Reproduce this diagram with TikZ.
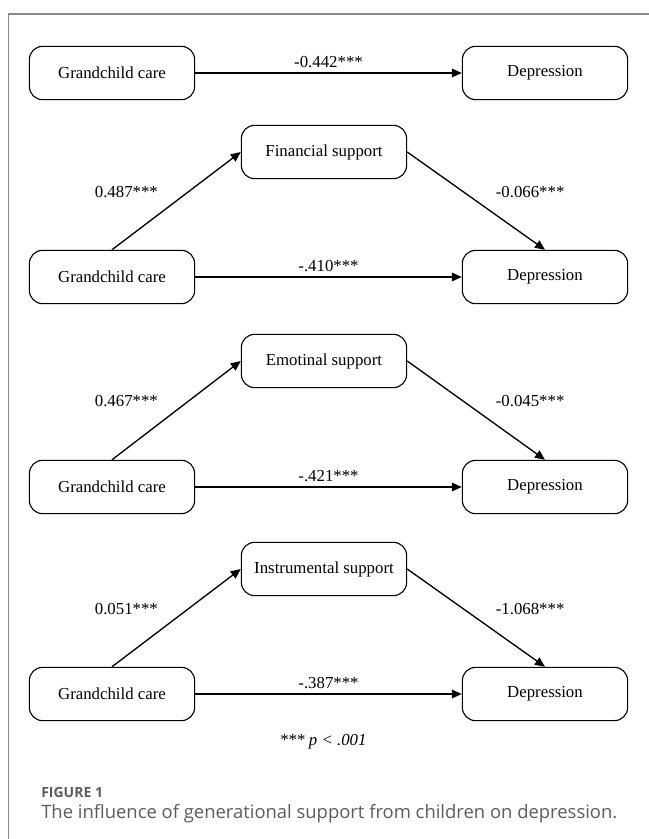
\documentclass[tikz,border=0pt]{standalone}
\usepackage{fontspec}
\setmainfont{Liberation Serif}
\newfontfamily\capfont{Open Sans}
\usetikzlibrary{arrows.meta}
\definecolor{framegray}{HTML}{8A8A8A}
\definecolor{capgray}{HTML}{5C5C5C}

\begin{document}
\begin{tikzpicture}[x=0.75pt,y=-0.75pt,font=\fontsize{12.6}{14}\selectfont,
  var/.style={draw,rounded corners=10pt,line width=0.85pt,minimum width=124pt,minimum height=40pt,inner sep=0pt},
  link/.style={-{Triangle[length=7.5pt,width=6.5pt]},line width=1pt}]
\useasboundingbox (0,0) rectangle (649,839);
\draw[framegray,line width=1pt] (8.7,839) -- (8.7,14) -- (649,14);

% total effect
\node[var] (gc0) at (112,73) {Grandchild care};
\node[var] (dep0) at (545,73) {Depression};
\draw[link] (gc0) -- node[above] {-0.442***} (dep0);

% financial support
\node[var] (fin) at (324,152) {Financial support};
\node[var] (gc1) at (112,277) {Grandchild care};
\node[var] (dep1) at (545,277) {Depression};
\draw[link] (gc1.north) -- node[shift={(-50,-9)}] {0.487***} (fin.west);
\draw[link] (fin.east) -- node[shift={(54,-9)}] {-0.066***} (dep1.north);
\draw[link] (gc1) -- node[above] {-.410***} (dep1);

% emotional support
\node[var] (emo) at (324,361) {Emotinal support};
\node[var] (gc2) at (112,487) {Grandchild care};
\node[var] (dep2) at (545,487) {Depression};
\draw[link] (gc2.north) -- node[shift={(-50,-9)}] {0.467***} (emo.west);
\draw[link] (emo.east) -- node[shift={(54,-9)}] {-0.045***} (dep2.north);
\draw[link] (gc2) -- node[above] {-.421***} (dep2);

% instrumental support
\node[var] (ins) at (324,569) {Instrumental support};
\node[var] (gc3) at (112,694) {Grandchild care};
\node[var] (dep3) at (545,694) {Depression};
\draw[link] (gc3.north) -- node[shift={(-50,-9)}] {0.051***} (ins.west);
\draw[link] (ins.east) -- node[shift={(54,-9)}] {-1.068***} (dep3.north);
\draw[link] (gc3) -- node[above] {-.387***} (dep3);

\node (note) at (323,742) {\itshape *** p < .001};

% caption
\node[anchor=west,inner sep=0pt,text=capgray,font=\capfont\fontsize{10.5}{12}\selectfont\bfseries] (fig) at (41,792) {FIGURE 1};
\node[anchor=west,inner sep=0pt,text=capgray] (cap) at (41,814)
  {\resizebox{432pt}{!}{\capfont\fontsize{12.5}{15}\selectfont The influence of generational support from children on depression.}};
\end{tikzpicture}
\end{document}
